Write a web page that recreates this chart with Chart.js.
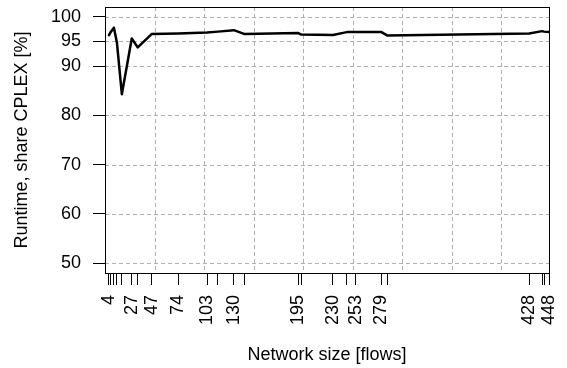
<!DOCTYPE html>
<html>
<head>
<meta charset="utf-8">
<script src="https://cdn.jsdelivr.net/npm/chart.js@4"></script>
<style>
  html, body { margin: 0; padding: 0; background: #fff; }
  #wrap { width: 567px; height: 368px; }
</style>
</head>
<body>
<div id="wrap"><canvas id="chart"></canvas></div>
<script>
// network sizes (flows) and CPLEX share of runtime (%)
const flows = [4, 6, 9, 12, 17, 27, 33, 47, 74, 103, 114, 130, 141, 195, 198, 230, 244, 253, 279, 285, 428, 441, 443, 448];
const shareCplex = [96.3, 97.0, 97.8, 94.8, 84.3, 95.6, 93.8, 96.5, 96.6, 96.8, 97.0, 97.3, 96.5, 96.7, 96.4, 96.3, 96.9, 96.9, 96.9, 96.2, 96.6, 97.1, 97.0, 96.9];

// which x ticks get a label
const labeledFlows = [4, 27, 47, 74, 103, 130, 195, 230, 253, 279, 428, 448];
const yTicks = [50, 60, 70, 80, 90, 95, 100];
const gridX = [0, 50, 100, 150, 200, 250, 300, 350, 400];
const gridY = [50, 60, 70, 80, 90, 95, 100];

Chart.defaults.font.family = "'Liberation Sans', Arial, sans-serif";
Chart.defaults.font.size = 18;
Chart.defaults.color = "#000";

// the layout should not reserve room for labels hanging over the plot edges
const noEdgePadding = scale => {
    scale.paddingTop = 0;
    scale.paddingBottom = 0;
    scale.paddingLeft = 0;
    scale.paddingRight = 0;
};

// dashed grid + box, like grid() + box() in R
const gridBox = {
    id: "gridBox",
    beforeDatasetsDraw(chart) {
        const { ctx, chartArea: a, scales: { x, y } } = chart;
        ctx.save();
        ctx.strokeStyle = "#b0b0b0";
        ctx.lineWidth = 1;
        ctx.setLineDash([4, 3]);
        gridX.forEach(v => {
            const px = Math.round(x.getPixelForValue(v)) + 0.5;
            ctx.beginPath(); ctx.moveTo(px, a.top); ctx.lineTo(px, a.bottom); ctx.stroke();
        });
        gridY.forEach(v => {
            const py = Math.round(y.getPixelForValue(v)) + 0.5;
            ctx.beginPath(); ctx.moveTo(a.left, py); ctx.lineTo(a.right, py); ctx.stroke();
        });
        ctx.restore();
    },
    afterDraw(chart) {
        const { ctx, chartArea: a } = chart;
        ctx.save();
        ctx.strokeStyle = "#000";
        ctx.lineWidth = 1;
        ctx.strokeRect(Math.round(a.left) + 0.5, Math.round(a.top) + 0.5,
            Math.round(a.right - a.left), Math.round(a.bottom - a.top));
        ctx.restore();
    }
};

new Chart(document.getElementById("chart"), {
    type: "line",
    data: {
        datasets: [{
            data: flows.map((f, i) => ({ x: f, y: shareCplex[i] })),
            borderColor: "#000",
            borderWidth: 2.5,
            borderJoinStyle: "round",
            borderCapStyle: "round",
            pointRadius: 0,
            tension: 0,
            fill: false
        }]
    },
    options: {
        responsive: true,
        maintainAspectRatio: false,
        animation: false,
        layout: { padding: { top: 7, right: 18, left: 0, bottom: 0 } },
        plugins: {
            legend: { display: false },
            tooltip: { enabled: false }
        },
        scales: {
            x: {
                type: "linear",
                min: 0,
                max: 448,
                afterBuildTicks: scale => {
                    scale.ticks = flows.map(v => ({ value: v }));
                },
                afterFit: scale => {
                    scale.height = 95;
                    noEdgePadding(scale);
                },
                ticks: {
                    autoSkip: false,
                    minRotation: 90,
                    maxRotation: 90,
                    padding: 10,
                    callback: v => labeledFlows.includes(v) ? String(v) : ""
                },
                grid: {
                    drawOnChartArea: false,
                    drawTicks: true,
                    tickLength: 12,
                    tickColor: "#000",
                    tickWidth: 1
                },
                border: { display: false },
                title: {
                    display: true,
                    text: "Network size [flows]",
                    padding: { top: 0, bottom: 2 }
                }
            },
            y: {
                min: 48,
                max: 102,
                afterBuildTicks: scale => {
                    scale.ticks = yTicks.map(v => ({ value: v }));
                },
                afterFit: scale => {
                    scale.width = 105;
                    noEdgePadding(scale);
                },
                ticks: { padding: 12 },
                grid: {
                    drawOnChartArea: false,
                    drawTicks: true,
                    tickLength: 12,
                    tickColor: "#000",
                    tickWidth: 1
                },
                border: { display: false },
                title: {
                    display: true,
                    text: "Runtime, share CPLEX [%]",
                    padding: { top: 11, bottom: 0 }
                }
            }
        }
    },
    plugins: [gridBox]
});
</script>
</body>
</html>
